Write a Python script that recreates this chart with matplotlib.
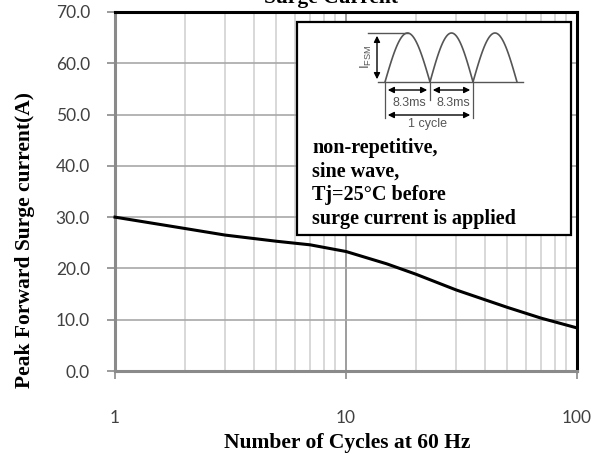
import numpy as np
import matplotlib.pyplot as plt
from matplotlib.ticker import FixedLocator, NullFormatter

# surge curve
cycles = [1, 2, 3, 5, 7, 10, 15, 20, 30, 50, 70, 100]
current = [30.0, 27.8, 26.5, 25.3, 24.6, 23.3, 20.9, 18.9, 15.8, 12.4, 10.3, 8.4]

yticks = [0, 10, 20, 30, 40, 50, 60, 70]
xticks = [1, 10, 100]
notes = ["non-repetitive,", "sine wave,", "Tj=25\u00b0C before", "surge current is applied"]

W, H = 600, 462
fig = plt.figure(figsize=(6, 4.62), dpi=100)
ax = fig.add_axes([115 / W, 1 - 371 / H, 462 / W, 359 / H])

ax.set_xscale('log')
ax.set_xlim(1, 100)
ax.set_ylim(0, 70)

minor = [m * d for d in (1, 10) for m in range(2, 10)]
ax.xaxis.set_major_locator(FixedLocator(xticks))
ax.xaxis.set_minor_locator(FixedLocator(minor))
ax.xaxis.set_minor_formatter(NullFormatter())
ax.set_xticks(xticks)
ax.set_xticklabels([str(t) for t in xticks])
ax.set_yticks(yticks)
ax.set_yticklabels([f"{t:.1f}" for t in yticks])

for m in minor:
    ax.axvline(m, color='#d2d2d2', lw=1.2, zorder=0)
ax.axvline(10, color='#8c8c8c', lw=1.2, zorder=0)
for t in yticks[1:]:
    ax.axhline(t, color='#a8a8a8', lw=1.2, zorder=0)

ax.plot(cycles, current, color='black', lw=2.2, zorder=3, clip_on=False)

for s in ('top', 'right'):
    ax.spines[s].set_color('black')
    ax.spines[s].set_linewidth(2.2)
for s in ('left', 'bottom'):
    ax.spines[s].set_color('#8a8a8a')
    ax.spines[s].set_linewidth(2.2)

ax.tick_params(axis='y', which='major', length=6, width=1.2, color='#8a8a8a',
               labelsize=12.5, labelcolor='#404040', pad=12)
ax.tick_params(axis='x', which='major', length=6, width=1.2, color='#8a8a8a',
               labelsize=12.5, labelcolor='#404040', pad=22)
ax.tick_params(axis='x', which='minor', length=0)
for lab in ax.get_xticklabels() + ax.get_yticklabels():
    lab.set_family('Lato')

# y label sits lower than the axes centre in the original
fig.text(25 / W, 1 - 240 / H, 'Peak Forward Surge current(A)', family='Liberation Serif',
         fontweight='bold', fontsize=15.5, rotation=90, ha='center', va='center')
fig.text(347 / W, 1 - 443 / H, 'Number of Cycles at 60 Hz', family='Liberation Serif',
         fontweight='bold', fontsize=15.5, ha='center', va='center')

fig.text(331 / W, 1 - 3 / H, 'Surge Current', family='Liberation Serif',
         fontweight='bold', fontsize=15.5, ha='center', va='baseline')

# inset box with the waveform sketch, drawn in pixel coordinates
ov = fig.add_axes([0, 0, 1, 1], facecolor='none')
ov.set_xlim(0, W)
ov.set_ylim(H, 0)
ov.axis('off')
ov.add_patch(plt.Rectangle((297, 22), 274, 213, facecolor='white',
                           edgecolor='black', lw=1.6, zorder=4))

g = '#555555'
edges = [385, 430, 473, 517]
base, peak = 82, 33
for a, b in zip(edges[:-1], edges[1:]):
    t = np.linspace(0, 1, 60)
    ov.plot(a + (b - a) * t, base - (base - peak) * np.sin(np.pi * t), color=g, lw=1.2, zorder=5)
ov.plot([378, 523], [base, base], color=g, lw=1.0, zorder=5)
ov.plot([368, 408], [peak, peak], color=g, lw=1.0, zorder=5)
ov.annotate('', xy=(377, peak), xytext=(377, base),
            arrowprops=dict(arrowstyle='<|-|>', color='black', lw=1.0, mutation_scale=9), zorder=6)
ov.text(366, 57, 'I$_{\\mathregular{FSM}}$', rotation=90, fontsize=9.5, color=g,
        ha='center', va='center', family='Liberation Sans', zorder=6)
for x, y1 in zip(edges[:3], [118, 100, 118]):
    ov.plot([x, x], [base, y1], color=g, lw=0.9, zorder=5)
for a, b in zip(edges[:2], edges[1:3]):
    ov.annotate('', xy=(a, 90), xytext=(b, 90),
                arrowprops=dict(arrowstyle='<|-|>', color='black', lw=1.0, mutation_scale=9), zorder=6)
    ov.text((a + b) / 2 + 2, 103, '8.3ms', fontsize=9, color=g, ha='center', va='center',
            family='Liberation Sans', zorder=6)
ov.annotate('', xy=(edges[0], 115), xytext=(edges[2], 115),
            arrowprops=dict(arrowstyle='<|-|>', color='black', lw=1.0, mutation_scale=9), zorder=6)
ov.text(427, 124, '1 cycle', fontsize=9, color=g, ha='center', va='center',
        family='Liberation Sans', zorder=6)

for i, line in enumerate(notes):
    ov.text(312, 148 + 23.7 * i, line, family='Liberation Serif', fontweight='bold',
            fontsize=14.5, ha='left', va='center', zorder=6)

fig.savefig('out.png', dpi=100)
